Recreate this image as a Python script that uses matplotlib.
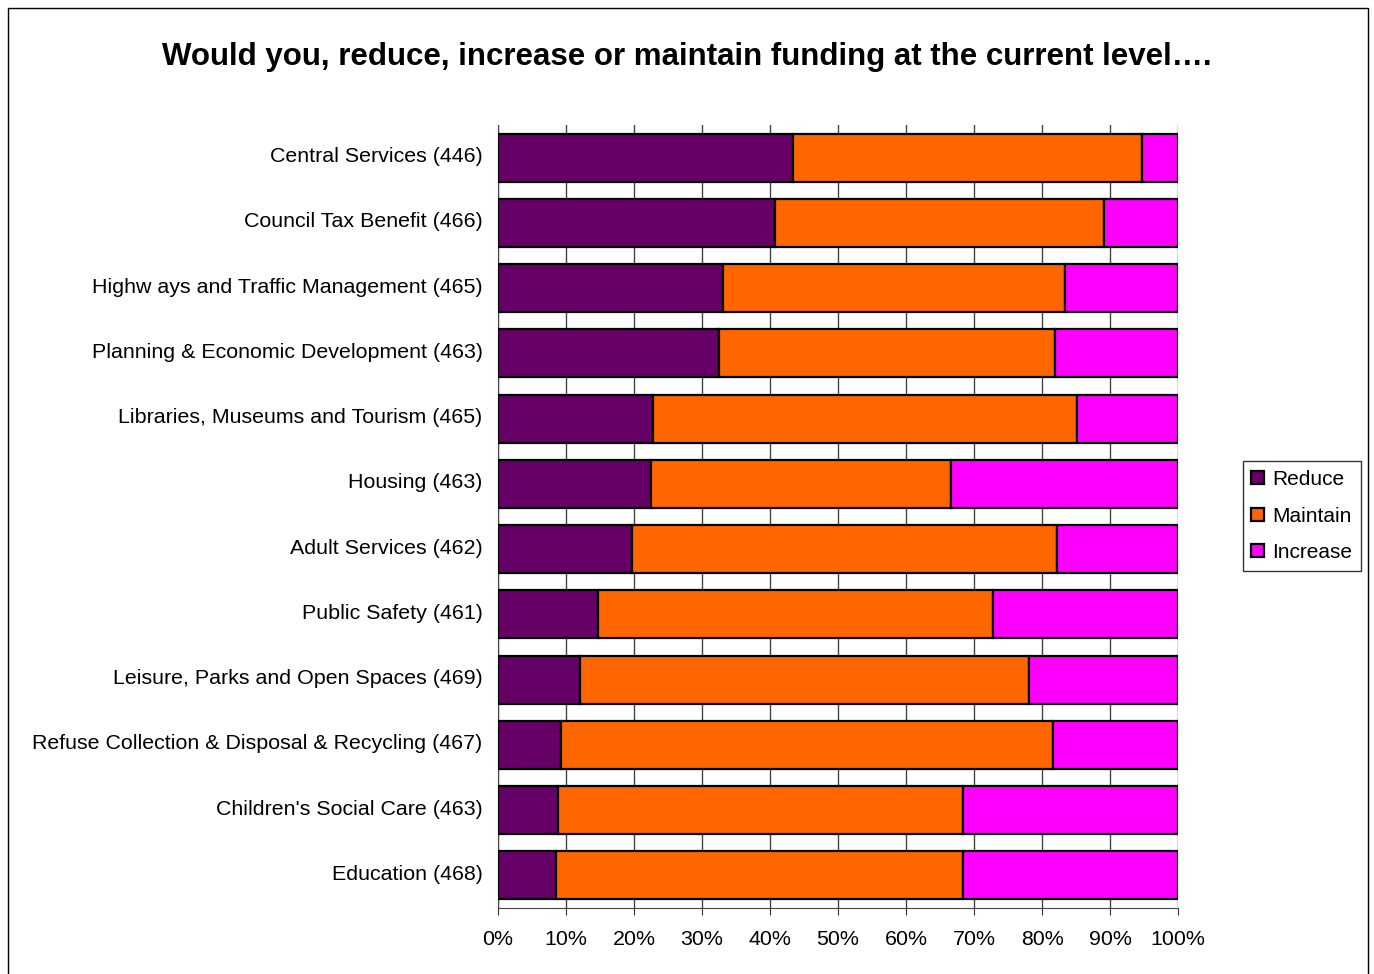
import numpy as np
import matplotlib.pyplot as plt
from matplotlib.patches import Rectangle
from matplotlib.transforms import ScaledTranslation

plt.rcParams['font.family'] = ['Liberation Sans', 'DejaVu Sans']

services = [
    "Central Services (446)",
    "Council Tax Benefit (466)",
    "Highw ays and Traffic Management (465)",
    "Planning & Economic Development (463)",
    "Libraries, Museums and Tourism (465)",
    "Housing (463)",
    "Adult Services (462)",
    "Public Safety (461)",
    "Leisure, Parks and Open Spaces (469)",
    "Refuse Collection & Disposal & Recycling (467)",
    "Children's Social Care (463)",
    "Education (468)",
]
reduce_pct = [43.4, 40.7, 33.1, 32.5, 22.8, 22.5, 19.7, 14.7, 12.1, 9.3, 8.8, 8.5]
maintain_pct = [51.3, 48.4, 50.3, 49.4, 62.3, 44.1, 62.5, 58.1, 66.0, 72.3, 59.6, 59.9]
increase_pct = [5.3, 10.9, 16.6, 18.1, 14.9, 33.4, 17.8, 27.2, 21.9, 18.4, 31.6, 31.6]

fig = plt.figure(figsize=(13.74, 9.74), dpi=100)
ax = fig.add_axes([498 / 1374, 1 - 908 / 974, 680 / 1374, 783 / 974])

y = np.arange(len(services))
red = np.array(reduce_pct)
mai = np.array(maintain_pct)
inc = np.array(increase_pct)
h = 0.735
kw = dict(height=h, edgecolor="black", linewidth=1.6, zorder=3)
ax.barh(y, red, color="#660066", label="Reduce", **kw)
ax.barh(y, mai, left=red, color="#FF6600", label="Maintain", **kw)
ax.barh(y, inc, left=red + mai, color="#FF00FF", label="Increase", **kw)

ax.set_ylim(len(services) - 0.5, -0.5)
ax.set_xlim(0, 100)
ax.set_yticks(y)
ax.set_yticklabels(services, fontsize=15.4)
ax.set_xticks(np.arange(0, 101, 10))
ax.set_xticklabels([f"{v}%" for v in range(0, 101, 10)], fontsize=15.4)
ax.tick_params(axis="y", length=0, pad=11)
ax.tick_params(axis="x", length=5, direction="out", color="#333333", pad=11)
ax.grid(axis="x", color="#444444", linewidth=1, zorder=0)
ax.set_axisbelow(True)
for s in ["top", "right"]:
    ax.spines[s].set_visible(False)
ax.spines["left"].set_color("#444444")
ax.spines["bottom"].set_color("#444444")

# nudge category labels up a little
lift = ScaledTranslation(0, 3 / 100, fig.dpi_scale_trans)
for lbl in ax.get_yticklabels():
    lbl.set_transform(lbl.get_transform() + lift)

fig.text(0.5, 1 - 57 / 974, "Would you, reduce, increase or maintain funding at the current level\u2026.",
         ha="center", va="center", fontsize=22.5, fontweight="bold")

leg = ax.legend(loc="center left", bbox_to_anchor=(1243 / 1374, 1 - 516 / 974),
                bbox_transform=fig.transFigure, fontsize=15, frameon=True, fancybox=False,
                handlelength=0.6, handleheight=0.6, handletextpad=0.4, labelspacing=0.85,
                borderpad=0.4, borderaxespad=0)
leg.get_frame().set_edgecolor("black")
leg.get_frame().set_linewidth(1)

fig.patches.append(Rectangle((8 / 1374, -0.01), 1360 / 1374, 1 - 8 / 974 + 0.01,
                             transform=fig.transFigure, fill=False, edgecolor="black", linewidth=1))

fig.savefig("out.png", dpi=100)
